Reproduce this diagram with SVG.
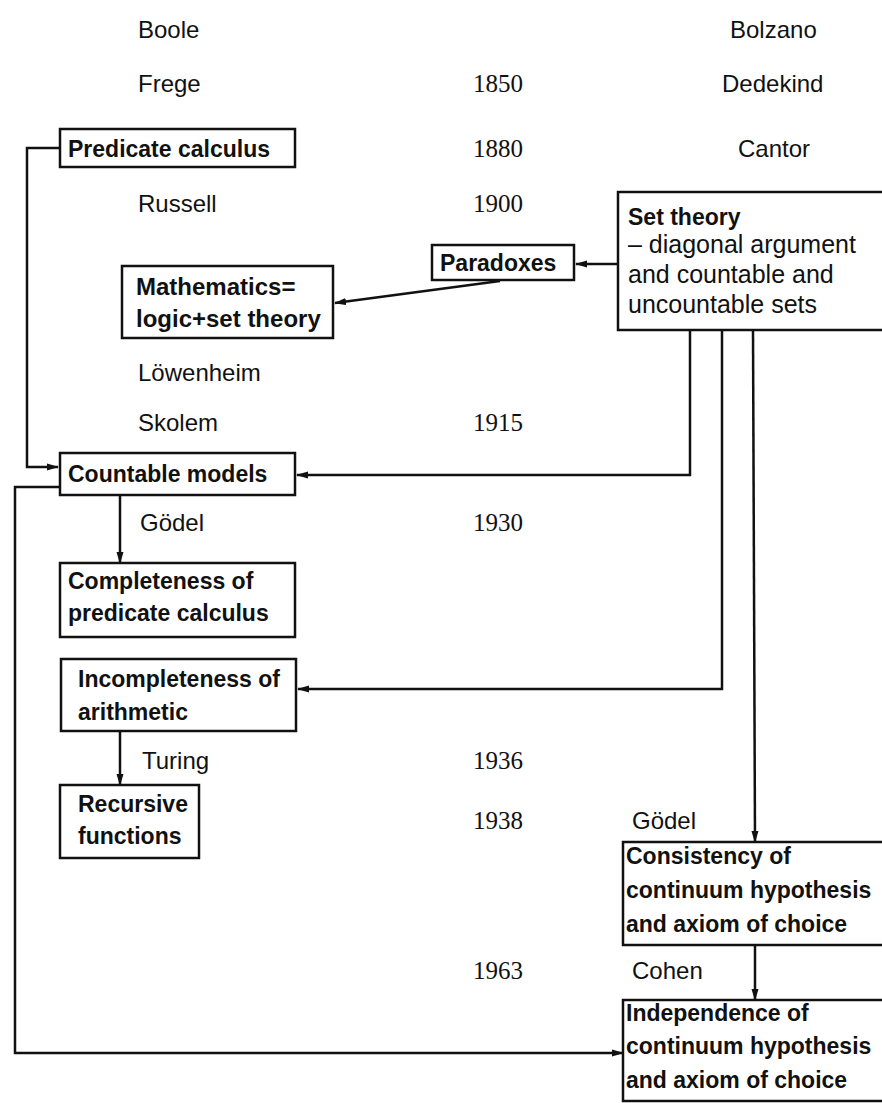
<svg xmlns="http://www.w3.org/2000/svg" width="882" height="1103" viewBox="0 0 882 1103">
<defs>
<marker id="ah" markerWidth="12" markerHeight="8" refX="11" refY="4" orient="auto" markerUnits="userSpaceOnUse">
<path d="M0,0.5 L12,4 L0,7.5 z" fill="#111"/>
</marker>
<style>
.box{fill:#fff;stroke:#111;stroke-width:2.5}
.ln{fill:none;stroke:#111;stroke-width:2.5}
.nm{font-family:"Liberation Sans",Arial,sans-serif;font-size:24px;fill:#111}
.yr{font-family:"Liberation Serif","Times New Roman",serif;font-size:25px;fill:#111}
.bx{font-family:"Liberation Sans",Arial,sans-serif;font-size:23px;font-weight:bold;fill:#111}
.bxl{font-family:"Liberation Sans",Arial,sans-serif;font-size:24px;font-weight:bold;fill:#111}
.st{font-family:"Liberation Sans",Arial,sans-serif;font-size:25px;fill:#111}
</style>
</defs>
<rect width="882" height="1103" fill="#fff"/>

<g id="labels">
<text class="nm" x="138" y="38">Boole</text>
<text class="nm" x="730" y="38">Bolzano</text>
<text class="nm" x="138" y="92">Frege</text>
<text class="yr" x="473" y="92">1850</text>
<text class="nm" x="722" y="92">Dedekind</text>
<text class="yr" x="473" y="157">1880</text>
<text class="nm" x="738" y="157">Cantor</text>
<text class="nm" x="138" y="212">Russell</text>
<text class="yr" x="473" y="212">1900</text>
<text class="nm" x="138" y="381">Löwenheim</text>
<text class="nm" x="138" y="431">Skolem</text>
<text class="yr" x="473" y="431">1915</text>
<text class="nm" x="140" y="531">Gödel</text>
<text class="yr" x="473" y="531">1930</text>
<text class="nm" x="142" y="769">Turing</text>
<text class="yr" x="473" y="769">1936</text>
<text class="yr" x="473" y="829">1938</text>
<text class="nm" x="632" y="829">Gödel</text>
<text class="yr" x="473" y="979">1963</text>
<text class="nm" x="632" y="979">Cohen</text>
</g>

<g id="connectors">
<path class="ln" d="M60,148 H27 V467 H58" marker-end="url(#ah)"/>
<path class="ln" d="M618,264 H576" marker-end="url(#ah)"/>
<path class="ln" d="M500,281 L335,303" marker-end="url(#ah)"/>
<path class="ln" d="M690,330 V475 H297" marker-end="url(#ah)"/>
<path class="ln" d="M722,330 V689 H298" marker-end="url(#ah)"/>
<path class="ln" d="M753,330 L755,842" marker-end="url(#ah)"/>
<path class="ln" d="M120,495 V563" marker-end="url(#ah)"/>
<path class="ln" d="M60,487 H15 V1053 H623" marker-end="url(#ah)"/>
<path class="ln" d="M120,731 V785" marker-end="url(#ah)"/>
<path class="ln" d="M755,945 V1000" marker-end="url(#ah)"/>
</g>

<g id="predicate-calculus">
<rect class="box" x="60" y="129" width="235" height="38"/>
<text class="bx" x="68" y="157">Predicate calculus</text>
</g>

<g id="paradoxes">
<rect class="box" x="432" y="245" width="142" height="35"/>
<text class="bx" x="440" y="271">Paradoxes</text>
</g>

<g id="mathematics">
<rect class="box" x="122" y="266" width="211" height="72"/>
<text class="bxl" x="136" y="295">Mathematics=</text>
<text class="bxl" x="136" y="327">logic+set theory</text>
</g>

<g id="set-theory">
<rect class="box" x="618" y="192" width="280" height="138"/>
<text class="bx" x="628" y="225">Set theory</text>
<text class="st" x="628" y="253">– diagonal argument</text>
<text class="st" x="628" y="283">and countable and</text>
<text class="st" x="628" y="313">uncountable sets</text>
</g>

<g id="countable-models">
<rect class="box" x="60" y="453" width="235" height="42"/>
<text class="bx" x="68" y="482">Countable models</text>
</g>

<g id="completeness">
<rect class="box" x="60" y="563" width="235" height="74"/>
<text class="bx" x="68" y="589">Completeness of</text>
<text class="bx" x="68" y="621">predicate calculus</text>
</g>

<g id="incompleteness">
<rect class="box" x="61" y="659" width="235" height="72"/>
<text class="bx" x="78" y="687">Incompleteness of</text>
<text class="bx" x="78" y="720">arithmetic</text>
</g>

<g id="recursive-functions">
<rect class="box" x="60" y="785" width="139" height="73"/>
<text class="bx" x="78" y="812">Recursive</text>
<text class="bx" x="78" y="844">functions</text>
</g>

<g id="consistency">
<rect class="box" x="623" y="842" width="275" height="103"/>
<text class="bx" x="626" y="864">Consistency of</text>
<text class="bx" x="626" y="898">continuum hypothesis</text>
<text class="bx" x="626" y="932">and axiom of choice</text>
</g>

<g id="independence">
<rect class="box" x="623" y="1000" width="275" height="101"/>
<text class="bx" x="626" y="1021">Independence of</text>
<text class="bx" x="626" y="1054">continuum hypothesis</text>
<text class="bx" x="626" y="1088">and axiom of choice</text>
</g>
</svg>
